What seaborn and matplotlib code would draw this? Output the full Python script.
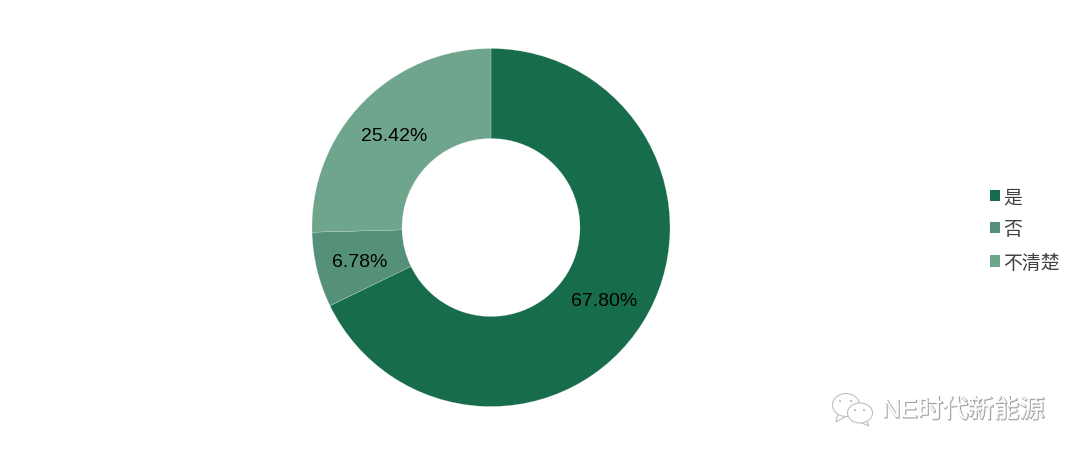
import matplotlib
matplotlib.use("Agg")
import matplotlib.pyplot as plt
import matplotlib.patheffects as pe
from matplotlib.patches import Ellipse, Polygon
import matplotlib.transforms as mtrans
import seaborn as sns

categories = ["是", "否", "不清楚"]
shares = [67.80, 6.78, 25.42]
colors = ["#176C4C", "#549178", "#6FA58C"]
watermark = "NE时代新能源"

sns.set_theme(style="white")
plt.rcParams["font.family"] = ["Liberation Sans", "Noto Sans CJK SC", "DejaVu Sans"]

fig = plt.figure(figsize=(10.8, 4.56), dpi=100)
ax = fig.add_axes([0, 0, 1, 1])
palette = sns.color_palette(colors)

wedges, _, autotexts = ax.pie(
    shares,
    colors=palette,
    startangle=90,
    counterclock=False,
    center=(491, 227.5),
    radius=179,
    frame=True,
    autopct="%.2f%%",
    pctdistance=0.75,
    wedgeprops=dict(width=90, edgecolor="#e8efe9", linewidth=0.15),
    textprops=dict(fontsize=14, color="black"),
)
ax.set_xlim(0, 1080)
ax.set_ylim(0, 456)
ax.set_aspect("equal")
ax.axis("off")

# nudge percentage labels to their place in the ring
nudge = mtrans.ScaledTranslation(-0.8 / 100, -1.8 / 100, fig.dpi_scale_trans)
for t in autotexts:
    t.set_transform(t.get_transform() + nudge)

leg = ax.legend(
    wedges, categories,
    loc="center left",
    bbox_to_anchor=(989.5 / 1080, 224.5 / 456),
    bbox_transform=fig.transFigure,
    frameon=False,
    fontsize=13.6,
    handlelength=0.53,
    handleheight=0.53,
    handletextpad=0.2,
    labelspacing=0.8,
    borderpad=0,
    borderaxespad=0,
    labelcolor="#404040",
)
for h in leg.legend_handles:
    h.set_edgecolor("none")

# watermark
shadow = [pe.Stroke(linewidth=0.8, foreground="#a0a0a0", offset=(0.7, -0.7)), pe.Normal()]
ax.text(882, 45, watermark, fontsize=18.3, color="white", va="center", ha="left",
        path_effects=shadow, zorder=5)
def bubble(cx, cy, w, h, tail, eyes):
    ax.add_patch(Polygon(tail, closed=True, fc="white", ec="#c0c0c0", lw=0.8, zorder=4))
    ax.add_patch(Ellipse((cx, cy), w, h, fc="white", ec="#c0c0c0", lw=0.8, zorder=4))
    for ex, ey in eyes:
        ax.add_patch(Ellipse((ex, ey), 2.4, 2.4, fc="#c4c4c4", ec="none", zorder=5))
bubble(846, 50, 27, 23, [(838, 42), (836, 33), (845, 38)], [(840, 54), (851, 54)])
bubble(860, 42, 25, 20, [(866, 35), (869, 29), (859, 33)], [(855, 45), (864, 45)])

fig.savefig("out.png", dpi=100)
